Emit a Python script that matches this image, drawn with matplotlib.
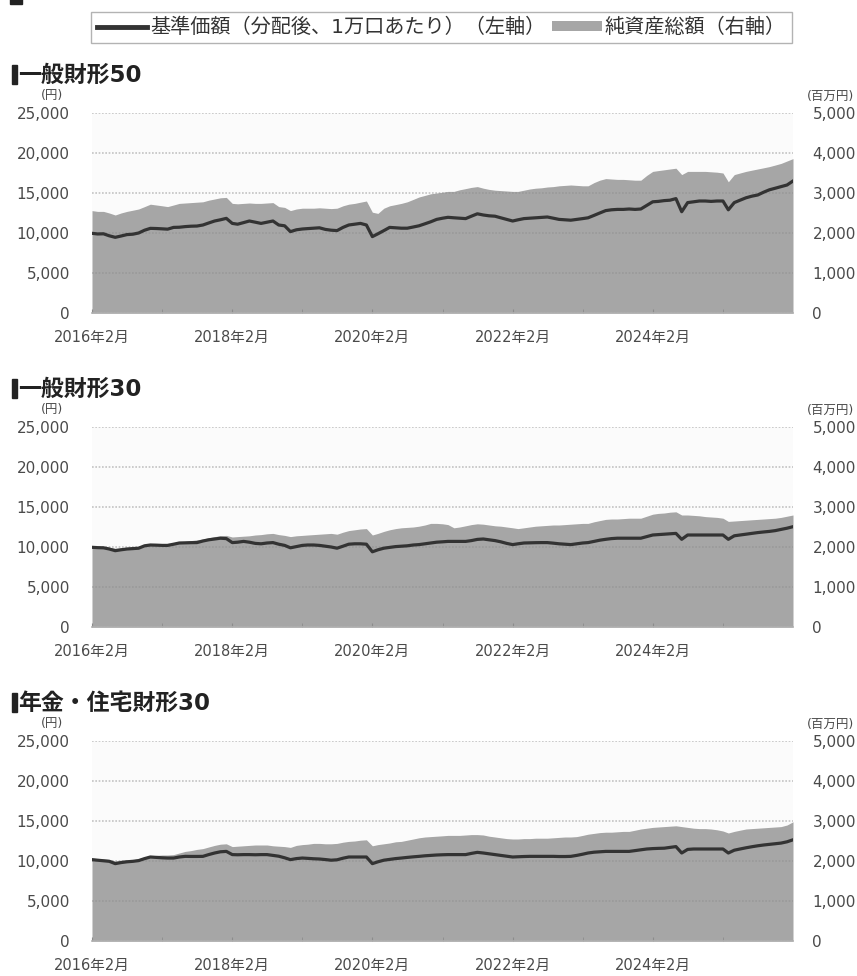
import numpy as np
import pandas as pd
import matplotlib
matplotlib.use("Agg")
import matplotlib.pyplot as plt
import matplotlib.dates as mdates
from matplotlib.lines import Line2D
from matplotlib.patches import Patch, Rectangle
from matplotlib.ticker import FuncFormatter, MultipleLocator, FixedLocator

# 数字は DejaVu、漢字・かなは Noto CJK で描く
plt.rcParams['font.family'] = ['DejaVu Sans', 'Noto Sans CJK JP']

# 月次データ（2016年2月〜2026年2月）
dates = pd.date_range("2016-02-01", periods=121, freq="MS")

# 一般財形50：基準価額（円）、純資産総額（百万円）
nav_50 = [
    9960, 9880, 9900, 9650, 9460, 9620, 9800, 9850, 10000, 10350,
    10580, 10560, 10520, 10480, 10700, 10720, 10800, 10850, 10870, 11000,
    11250, 11500, 11650, 11830, 11200, 11100, 11300, 11500, 11350, 11200,
    11350, 11500, 11000, 10900, 10170, 10400, 10500, 10550, 10600, 10650,
    10450, 10350, 10300, 10700, 11000, 11100, 11200, 11000, 9550, 9900,
    10300, 10700, 10650, 10600, 10600, 10750, 10900, 11150, 11400, 11700,
    11850, 11960, 11900, 11850, 11800, 12100, 12400, 12250, 12150, 12100,
    11900, 11700, 11500, 11650, 11800, 11850, 11900, 11950, 12000, 11850,
    11700, 11650, 11600, 11700, 11800, 11900, 12200, 12500, 12800, 12900,
    12950, 12950, 13000, 12950, 13000, 13450, 13900, 13950, 14050, 14100,
    14300, 12660, 13800, 13900, 14000, 14000, 13950, 14000, 14000, 12900,
    13800, 14100, 14400, 14600, 14750, 15100, 15400, 15600, 15800, 16000,
    16500,
]
assets_50 = [
    2560, 2540, 2540, 2500, 2450, 2500, 2540, 2570, 2600, 2660,
    2720, 2700, 2680, 2660, 2700, 2740, 2750, 2760, 2770, 2780,
    2820, 2850, 2880, 2890, 2740, 2730, 2740, 2750, 2740, 2740,
    2750, 2760, 2660, 2640, 2560, 2600, 2620, 2620, 2620, 2630,
    2620, 2610, 2620, 2680, 2720, 2740, 2770, 2800, 2520, 2490,
    2620, 2680, 2710, 2740, 2780, 2840, 2900, 2940, 2980, 3000,
    3020, 3040, 3040, 3080, 3110, 3140, 3160, 3120, 3090, 3070,
    3060, 3050, 3040, 3040, 3070, 3100, 3120, 3130, 3150, 3160,
    3180, 3190, 3200, 3190, 3180, 3180, 3260, 3320, 3360, 3350,
    3340, 3340, 3330, 3320, 3320, 3440, 3540, 3560, 3580, 3600,
    3620, 3460, 3540, 3540, 3540, 3540, 3530, 3520, 3500, 3280,
    3460, 3500, 3540, 3570, 3600, 3630, 3660, 3700, 3740, 3800,
    3860,
]

# 一般財形30
nav_30 = [
    9960, 9920, 9900, 9750, 9540, 9650, 9750, 9800, 9850, 10150,
    10250, 10230, 10200, 10200, 10350, 10500, 10520, 10540, 10550, 10750,
    10900, 11000, 11100, 11050, 10550, 10600, 10700, 10600, 10450, 10400,
    10500, 10550, 10350, 10200, 9900, 10050, 10200, 10250, 10250, 10200,
    10100, 10000, 9850, 10100, 10350, 10400, 10400, 10350, 9400, 9650,
    9850, 9950, 10050, 10100, 10150, 10250, 10300, 10400, 10500, 10600,
    10650, 10700, 10700, 10700, 10700, 10800, 10950, 11000, 10900, 10800,
    10650, 10450, 10300, 10400, 10500, 10520, 10540, 10550, 10550, 10480,
    10400, 10350, 10300, 10400, 10500, 10550, 10700, 10850, 10960, 11050,
    11100, 11100, 11100, 11100, 11100, 11300, 11500, 11550, 11600, 11650,
    11700, 10960, 11500, 11500, 11500, 11500, 11500, 11500, 11500, 10960,
    11400, 11500, 11600, 11700, 11800, 11880, 11950, 12050, 12200, 12350,
    12540,
]
assets_30 = [
    2020, 2010, 2000, 1990, 1970, 1980, 1990, 2000, 2000, 2040,
    2060, 2070, 2080, 2090, 2100, 2120, 2140, 2160, 2180, 2200,
    2230, 2260, 2280, 2290, 2250, 2260, 2270, 2280, 2300, 2310,
    2330, 2340, 2310, 2290, 2260, 2280, 2290, 2300, 2310, 2320,
    2330, 2340, 2320, 2370, 2410, 2430, 2450, 2460, 2300, 2340,
    2390, 2430, 2460, 2480, 2490, 2500, 2520, 2550, 2590, 2590,
    2580, 2560, 2480, 2500, 2530, 2560, 2580, 2570, 2550, 2530,
    2520, 2500, 2480, 2460, 2480, 2500, 2520, 2530, 2540, 2550,
    2550, 2560, 2570, 2580, 2590, 2590, 2630, 2660, 2690, 2700,
    2700, 2710, 2720, 2720, 2720, 2770, 2820, 2840, 2850, 2870,
    2880, 2800, 2800, 2790, 2780, 2760, 2750, 2740, 2720, 2640,
    2650, 2660, 2670, 2680, 2690, 2700, 2710, 2720, 2740, 2770,
    2800,
]

# 年金・住宅財形30
nav_pension = [
    10170, 10100, 10030, 9960, 9670, 9800, 9900, 9960, 10050, 10300,
    10500, 10450, 10400, 10370, 10370, 10500, 10580, 10570, 10570, 10580,
    10800, 11000, 11150, 11200, 10800, 10780, 10800, 10800, 10780, 10800,
    10800, 10700, 10600, 10400, 10170, 10300, 10370, 10330, 10280, 10250,
    10180, 10100, 10150, 10350, 10500, 10500, 10500, 10500, 9670, 9900,
    10100, 10200, 10300, 10370, 10450, 10520, 10580, 10650, 10700, 10750,
    10780, 10800, 10800, 10800, 10800, 10950, 11080, 11000, 10900, 10800,
    10700, 10600, 10500, 10530, 10560, 10580, 10580, 10580, 10580, 10580,
    10560, 10560, 10580, 10700, 10850, 11000, 11100, 11150, 11200, 11200,
    11200, 11200, 11200, 11300, 11400, 11500, 11550, 11580, 11600, 11700,
    11800, 11000, 11450, 11500, 11500, 11500, 11500, 11500, 11500, 11000,
    11350, 11500, 11650, 11780, 11900, 12000, 12080, 12160, 12240, 12400,
    12650,
]
assets_pension = [
    2070, 2060, 2050, 2040, 2000, 2020, 2030, 2030, 2060, 2100,
    2130, 2140, 2150, 2150, 2160, 2200, 2240, 2260, 2290, 2310,
    2350, 2390, 2420, 2430, 2360, 2370, 2380, 2390, 2400, 2400,
    2400, 2380, 2370, 2360, 2340, 2390, 2410, 2420, 2440, 2440,
    2430, 2430, 2440, 2470, 2490, 2500, 2520, 2530, 2380, 2410,
    2430, 2450, 2480, 2490, 2520, 2550, 2580, 2600, 2610, 2620,
    2630, 2640, 2640, 2640, 2650, 2660, 2660, 2650, 2620, 2600,
    2580, 2560, 2550, 2550, 2560, 2560, 2570, 2570, 2570, 2580,
    2590, 2600, 2600, 2610, 2640, 2670, 2690, 2710, 2720, 2720,
    2730, 2740, 2740, 2770, 2800, 2820, 2840, 2850, 2860, 2870,
    2880, 2860, 2840, 2820, 2810, 2810, 2800, 2780, 2750, 2700,
    2740, 2770, 2800, 2810, 2820, 2830, 2840, 2850, 2860, 2900,
    2980,
]

titles = ["一般財形50", "一般財形30", "年金・住宅財形30"]
navs = [nav_50, nav_30, nav_pension]
assets = [assets_50, assets_30, assets_pension]

LINE_C = "#333333"
AREA_C = "#a6a6a6"
TEXT_C = "#4a4a4a"

W, H = 857, 976
fig = plt.figure(figsize=(W / 100, H / 100), dpi=100)
fig.patch.set_facecolor("white")


def fx(px):
    return px / W


def fy(py):
    return 1 - py / H


comma = FuncFormatter(lambda v, _: f"{int(v):,}")
date_fmt = FuncFormatter(lambda v, _: f"{mdates.num2date(v).year}年{mdates.num2date(v).month}月")

# 目盛り：毎年2月に刻み、2年おきにラベル
major_ticks = mdates.date2num(dates[0:120:24])
minor_ticks = mdates.date2num(dates[0:120:12])


def draw_panel(top_px, title, nav, asset):
    left, right, bottom = 92, 793, top_px + 200
    ax = fig.add_axes([fx(left), fy(bottom), fx(right - left), (bottom - top_px) / H])
    ax2 = ax.twinx()

    # 純資産総額（右軸）は面で、基準価額（左軸）は線で
    ax2.patch.set_visible(True)
    ax2.set_facecolor("#fbfbfb")
    ax2.fill_between(dates, asset, 0, color=AREA_C, lw=0)
    ax2.set_ylim(0, 5000)
    ax2.yaxis.set_major_locator(MultipleLocator(1000))
    ax2.yaxis.set_major_formatter(comma)

    ax.set_zorder(ax2.get_zorder() + 1)
    ax.patch.set_visible(False)
    ax.plot(dates, nav, color=LINE_C, lw=2.3, zorder=3, solid_joinstyle="round")
    ax.set_ylim(0, 25000)
    ax.set_xlim(dates[0], dates[-1])
    ax.yaxis.set_major_locator(MultipleLocator(5000))
    ax.yaxis.set_major_formatter(comma)
    ax.yaxis.grid(True, color="#8c8c8c", alpha=0.5, lw=1.2, linestyle=(0, (1, 1)))

    ax.xaxis.set_major_locator(FixedLocator(major_ticks))
    ax.xaxis.set_minor_locator(FixedLocator(minor_ticks))
    ax.xaxis.set_major_formatter(date_fmt)

    for a in (ax, ax2):
        for s in a.spines.values():
            s.set_visible(False)
    ax.spines["bottom"].set_visible(True)
    ax.spines["bottom"].set_color("#b0b0b0")
    ax.spines["bottom"].set_linewidth(1.2)

    ax.tick_params(axis="y", length=0, pad=16, labelsize=11, labelcolor=TEXT_C)
    ax2.tick_params(axis="y", length=0, pad=14, labelsize=11, labelcolor=TEXT_C)
    ax.tick_params(axis="x", which="both", direction="in", length=3, color="#8c8c8c",
                   pad=12, labelsize=10.5, labelcolor=TEXT_C)

    # 見出しと単位
    fig.patches.append(Rectangle((fx(12), fy(top_px - 29)), fx(5), 19 / H,
                                 transform=fig.transFigure, color="#222222"))
    fig.text(fx(18), fy(top_px - 38), title, fontsize=16.5, fontweight="bold",
             color="#222222", va="center", ha="left")
    fig.text(fx(52), fy(top_px - 17), "(円)", fontsize=9, color=TEXT_C, ha="center", va="center")
    fig.text(fx(830), fy(top_px - 17), "(百万円)", fontsize=9, color=TEXT_C, ha="center", va="center")
    return ax, ax2


panel_tops = [113, 427, 741]
for top, title, nav, asset in zip(panel_tops, titles, navs, assets):
    draw_panel(top, title, nav, asset)

# 上端の見出しマーク（上部で切れている）
fig.patches.append(Rectangle((fx(10), fy(4)), fx(12), 6 / H,
                             transform=fig.transFigure, color="#222222"))

# 凡例
handles = [Line2D([], [], color=LINE_C, lw=3.5), Patch(facecolor=AREA_C, edgecolor="none")]
labels = ["基準価額（分配後、1万口あたり）（左軸）", "純資産総額（右軸）"]
leg = fig.legend(handles, labels, loc="center", bbox_to_anchor=(fx(441.5), fy(27.5)),
                 ncol=2, frameon=True, fancybox=False, fontsize=14.5, handlelength=2.5,
                 handleheight=0.45, handletextpad=0.15, columnspacing=0.3, borderpad=0.3,
                 borderaxespad=0, labelcolor="#333333")
leg.get_frame().set_edgecolor("#a0a0a0")
leg.get_frame().set_linewidth(1.0)

fig.savefig("out.png", dpi=100)
